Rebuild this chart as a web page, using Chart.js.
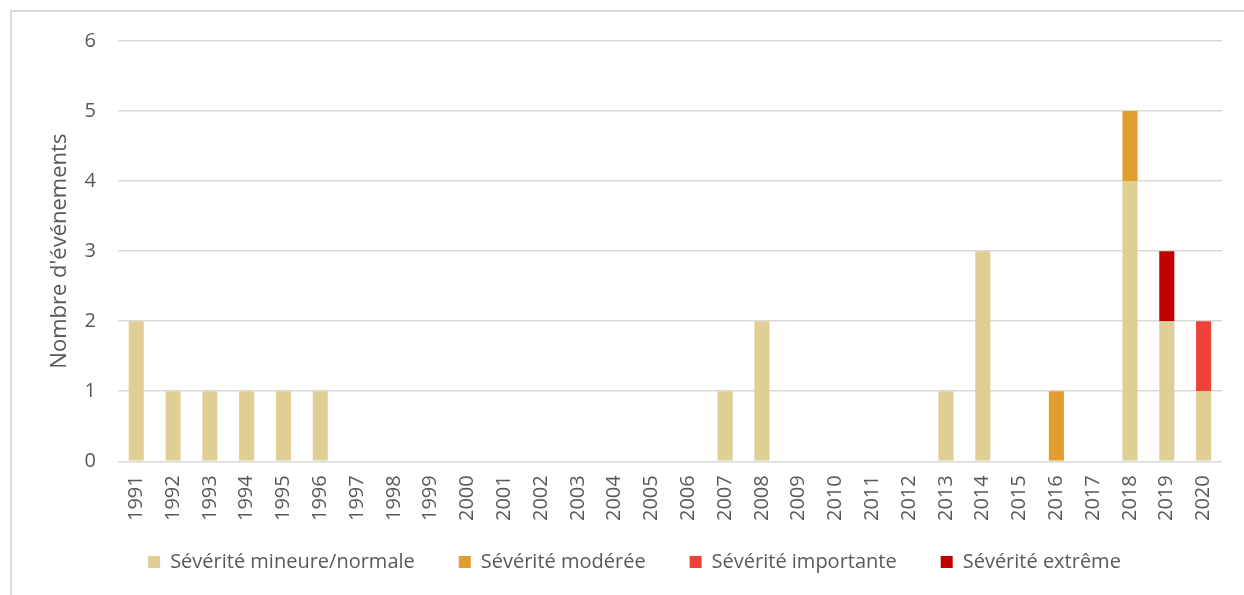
<!DOCTYPE html>
<html>
<head>
<meta charset="utf-8">
<script src="https://cdn.jsdelivr.net/npm/chart.js@4.4.0/dist/chart.umd.min.js"></script>
<style>
    html, body { margin: 0; padding: 0; background: #fff; }
    #wrap { position: relative; width: 1244px; height: 595px; }
    #frame { position: absolute; left: 10px; top: 10px; width: 1250px; height: 600px; border: 2px solid #d9d9d9; box-sizing: border-box; }
    canvas { position: absolute; left: 0; top: 0; }
</style>
</head>
<body>
<div id="wrap">
    <div id="frame"></div>
    <canvas id="chart" width="1244" height="595"></canvas>
</div>
<script>
const years = ['1991', '1992', '1993', '1994', '1995', '1996', '1997', '1998', '1999', '2000',
    '2001', '2002', '2003', '2004', '2005', '2006', '2007', '2008', '2009', '2010',
    '2011', '2012', '2013', '2014', '2015', '2016', '2017', '2018', '2019', '2020'];

const mineure = [2, 1, 1, 1, 1, 1, 0, 0, 0, 0, 0, 0, 0, 0, 0, 0, 1, 2, 0, 0, 0, 0, 1, 3, 0, 0, 0, 4, 2, 1];
const moderee = [0, 0, 0, 0, 0, 0, 0, 0, 0, 0, 0, 0, 0, 0, 0, 0, 0, 0, 0, 0, 0, 0, 0, 0, 0, 1, 0, 1, 0, 0];
const importante = [0, 0, 0, 0, 0, 0, 0, 0, 0, 0, 0, 0, 0, 0, 0, 0, 0, 0, 0, 0, 0, 0, 0, 0, 0, 0, 0, 0, 0, 1];
const extreme = [0, 0, 0, 0, 0, 0, 0, 0, 0, 0, 0, 0, 0, 0, 0, 0, 0, 0, 0, 0, 0, 0, 0, 0, 0, 0, 0, 0, 1, 0];

const textColor = '#595959';
const fontFamily = "'Open Sans', sans-serif";

// legend rows are fitted with a small padding (less vertical room),
// then drawn with wider gaps between items
const legendFitPadding = 24;
const legendGapPadding = 44;
const wideLegend = {
    id: 'wideLegend',
    afterLayout(chart) {
        const legend = chart.legend;
        if (!legend || !legend.lineWidths) return;
        const extra = legendGapPadding - legendFitPadding;
        legend.options.labels.padding = legendGapPadding;
        legend.lineWidths[0] += extra * chart.data.datasets.length;
        legend.top -= extra - 1; // keep the text where the fitted row put it
    }
};

function series(label, data, color) {
    return {
        label: label,
        data: data,
        backgroundColor: color,
        borderWidth: 0,
        barPercentage: 0.41,
        categoryPercentage: 1.0
    };
}

const ctx = document.getElementById('chart').getContext('2d');
new Chart(ctx, {
    type: 'bar',
    data: {
        labels: years,
        datasets: [
            series('Sévérité mineure/normale', mineure, '#e0cf95'),
            series('Sévérité modérée', moderee, '#e19d2d'),
            series('Sévérité importante', importante, '#ee4139'),
            series('Sévérité extrême', extreme, '#c00000')
        ]
    },
    plugins: [wideLegend],
    options: {
        responsive: false,
        animation: false,
        layout: { padding: { left: 47, right: 22, top: 41, bottom: 14 } },
        plugins: {
            tooltip: { enabled: false },
            legend: {
                position: 'bottom',
                labels: {
                    color: textColor,
                    font: { family: fontFamily, size: 20 },
                    boxWidth: 12,
                    boxHeight: 12,
                    padding: legendFitPadding
                }
            }
        },
        scales: {
            x: {
                stacked: true,
                grid: { display: false },
                border: { display: false },
                ticks: {
                    color: textColor,
                    font: { family: fontFamily, size: 20 },
                    maxRotation: 90,
                    minRotation: 90,
                    padding: 6
                }
            },
            y: {
                stacked: true,
                min: 0,
                max: 6,
                grid: { color: '#d9d9d9', lineWidth: 1.5, drawTicks: false },
                border: { display: false },
                ticks: {
                    stepSize: 1,
                    color: textColor,
                    font: { family: fontFamily, size: 20 },
                    padding: 22
                },
                title: {
                    display: true,
                    text: "Nombre d'événements",
                    color: textColor,
                    font: { family: fontFamily, size: 22 },
                    padding: { top: 0, bottom: -11 }
                }
            }
        }
    }
});
</script>
</body>
</html>
